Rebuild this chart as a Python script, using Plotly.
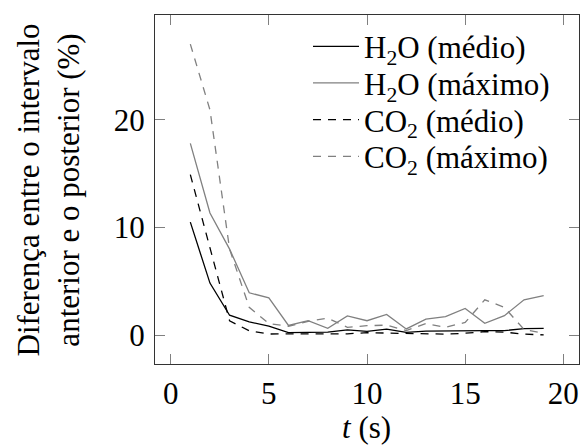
import plotly.graph_objects as go

t = list(range(1, 20))
h2o_medio = [10.5, 4.85, 1.87, 1.26, 0.85, 0.25, 0.28, 0.3, 0.52, 0.37, 0.58, 0.28, 0.4, 0.43, 0.45, 0.45, 0.45, 0.62, 0.66]
h2o_maximo = [17.8, 11.35, 8.0, 3.95, 3.48, 0.92, 1.36, 0.66, 1.8, 1.36, 1.95, 0.6, 1.5, 1.75, 2.5, 1.12, 1.83, 3.3, 3.68]
co2_medio = [14.9, 8.2, 1.35, 0.43, 0.13, 0.15, 0.15, 0.2, 0.15, 0.25, 0.2, 0.15, 0.12, 0.12, 0.2, 0.35, 0.3, 0.12, 0.05]
co2_maximo = [27.0, 20.9, 8.0, 2.6, 1.1, 0.85, 1.3, 1.6, 0.75, 0.9, 0.95, 0.45, 1.1, 0.75, 1.2, 3.3, 2.6, 0.55, 0.2]

names = ["H<sub>2</sub>O (médio)", "H<sub>2</sub>O (máximo)",
         "CO<sub>2</sub> (médio)", "CO<sub>2</sub> (máximo)"]
series = [h2o_medio, h2o_maximo, co2_medio, co2_maximo]
colors = ["#000000", "#808080", "#000000", "#808080"]
dashes = ["solid", "solid", "8px,7px", "8px,7px"]
xticks = [0, 5, 10, 15, 20]
yticks = [0, 10, 20]

FONT = "Liberation Serif"
FS = 31

W, H = 581, 446
L, R, T, B = 155, 2, 15, 82
pw, ph = W - L - R, H - T - B

ITEMW = 46
fig = go.Figure()
legend_rows_px = [46.7, 83.3, 120.0, 156.7]
layout_legends = {}
for i, (nm, ys, c, d) in enumerate(zip(names, series, colors, dashes)):
    key = "legend" if i == 0 else f"legend{i+1}"
    fig.add_trace(go.Scatter(x=t, y=ys, mode="lines", name=nm,
                             line=dict(color=c, width=1.3, dash=d),
                             legend=key))
    layout_legends[key] = dict(
        x=(364 - ITEMW - 10 - L) / pw, xanchor="left",
        y=(H - B - legend_rows_px[i]) / ph, yanchor="middle",
        bgcolor="rgba(0,0,0,0)", borderwidth=0, itemwidth=ITEMW,
        font=dict(family=FONT, size=FS, color="black"),
    )

axis_common = dict(
    showgrid=False, zeroline=False, showline=True, linecolor="#333333", linewidth=1,
    mirror="ticks", ticks="inside", ticklen=10, tickwidth=1, tickcolor="#808080",
    tickfont=dict(family=FONT, size=FS, color="black"),
)

fig.update_layout(
    width=W, height=H,
    margin=dict(l=L, r=R, t=T, b=B, pad=0),
    paper_bgcolor="white", plot_bgcolor="white",
    font=dict(family=FONT, size=FS, color="black"),
    showlegend=True,
    xaxis=dict(range=[-0.8, 20.8], tickvals=xticks, ticklabelstandoff=2, **axis_common),
    yaxis=dict(range=[-2.65, 29.7], tickvals=yticks, ticklabelstandoff=3, **axis_common),
    annotations=[
        dict(text="Diferença entre o intervalo<br>anterior e o posterior (%)",
             xref="paper", yref="paper", x=(48 - L) / pw, y=0.5,
             xanchor="center", yanchor="middle", textangle=-90, showarrow=False,
             font=dict(family=FONT, size=FS, color="black")),
        dict(text="<i>t</i> (s)", xref="paper", yref="paper",
             x=(366 - L) / pw, y=(H - B - 427) / ph,
             xanchor="center", yanchor="middle", showarrow=False,
             font=dict(family=FONT, size=FS, color="black")),
    ],
    **layout_legends,
)

fig.write_html("out.html")
